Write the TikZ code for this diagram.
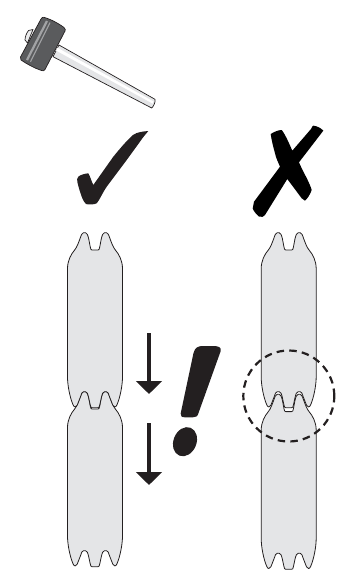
\documentclass[tikz,border=0pt]{standalone}
\usetikzlibrary{arrows.meta}
\definecolor{ink}{HTML}{231F20}
\definecolor{plankgrey}{HTML}{E4E5E7}
\definecolor{headgrey}{HTML}{5A5B5D}
\definecolor{stripegrey}{HTML}{A2A3A5}
\newcommand{\plankshape}[2]{%
  \draw[plank,shift={(#1,#2)}]
    (-27.5,144) -- (-27.5,36)
    .. controls (-27.5,28) and (-24,21.5) .. (-20.5,17.5)
    .. controls (-18,14.5) and (-16.5,10) .. (-15,6)
    .. controls (-13.8,2.5) and (-13,0) .. (-11.5,0)
    -- (-9.5,0)
    .. controls (-8,0) and (-7.2,2.5) .. (-6.3,6)
    -- (-4.8,14)
    .. controls (-4.4,16.5) and (-4,17.3) .. (-3,17.3)
    -- (3,17.3)
    .. controls (4,17.3) and (4.4,16.5) .. (4.8,14)
    -- (6.3,6)
    .. controls (7.2,2.5) and (8,0) .. (9.5,0)
    -- (11.5,0)
    .. controls (13,0) and (13.8,2.5) .. (15,6)
    .. controls (16.5,10) and (18,14.5) .. (20.5,17.5)
    .. controls (24,21.5) and (27.5,28) .. (27.5,36)
    -- (27.5,144)
    .. controls (27.5,153) and (25,165) .. (22,172)
    .. controls (21,174.8) and (18.8,175) .. (17.8,172.5)
    -- (14.5,164)
    .. controls (13.5,161) and (13,159) .. (11.5,159)
    -- (9.5,159)
    .. controls (8,159) and (7.2,161) .. (6.3,165)
    -- (4.8,172)
    .. controls (4.4,174.3) and (4,175) .. (3,175)
    -- (-3,175)
    .. controls (-4,175) and (-4.4,174.3) .. (-4.8,172)
    -- (-6.3,165)
    .. controls (-7.2,161) and (-8,159) .. (-9.5,159)
    -- (-11.5,159)
    .. controls (-13,159) and (-13.5,161) .. (-14.5,164)
    -- (-17.8,172.5)
    .. controls (-18.8,175) and (-21,174.8) .. (-22,172)
    .. controls (-25,165) and (-27.5,153) .. (-27.5,144)
    -- cycle;}
\tikzset{
  plank/.style={draw=ink,fill=plankgrey,line width=0.8pt,line join=round},
  solidmark/.style={fill=ink,draw=none},
  downarrow/.style={draw=ink,line width=3.7pt,-{Triangle[length=13pt,width=25.5pt,color=ink]}},
  hammeredge/.style={draw=ink,line width=0.7pt,line join=round},
}
\begin{document}
\begin{tikzpicture}[x=1pt,y=-1pt]
\useasboundingbox (0,0) rectangle (350,584);
% hammer
\draw[hammeredge,fill=plankgrey!70] (33,29.5) -- (28.5,30.5) .. controls (26.5,33) and (25,37) .. (25,40) -- (27.5,43) -- cycle;
\draw[hammeredge,fill=plankgrey] (59,45) -- (155,99.3) .. controls (155.5,102) and (154,106) .. (151.7,108) -- (53,56.7) -- cycle;
\fill[white] (57,47.5) -- (153.5,101.5) -- (152.5,103.5) -- (56,50.5) -- cycle;
\draw[hammeredge,fill=headgrey] (44,17.3) .. controls (50,19) and (58,23) .. (64,27.5)
  .. controls (65.5,29) and (65.5,30) .. (65,31)
  -- (45,69.5) .. controls (44,71) and (43,71) .. (41.5,70.5)
  .. controls (34,68) and (27,64) .. (21,60)
  .. controls (20,59) and (20,58) .. (20.5,57)
  -- (41,19) .. controls (42,17.5) and (43,17) .. (44,17.3) -- cycle;
\fill[stripegrey] (46,20.5) -- (48,21.5) -- (28,60.5) -- (26,59.5) -- cycle;
\fill[stripegrey] (49.5,22.3) -- (50.5,22.8) -- (31,62) -- (30,61.5) -- cycle;
% check mark
\fill[solidmark] (148.3,131) .. controls (143,131.5) and (137,132) .. (133,135)
  .. controls (127,140) and (118,151) .. (113.3,156.7)
  -- (93.3,185) .. controls (91,180) and (90,176) .. (88.3,173.3)
  .. controls (85,173.5) and (80,175) .. (78.3,176.7)
  .. controls (77,178) and (77,180) .. (77.3,181.7)
  .. controls (78.5,187) and (80,192) .. (81.7,196.7)
  .. controls (83,200) and (84.5,203) .. (86,204)
  .. controls (89,205) and (94,204.5) .. (96.7,203.3)
  .. controls (99,201) and (103,192) .. (106.7,186.7)
  -- (126.7,160) -- (140,141.7) .. controls (143,137) and (146,134) .. (148.3,131) -- cycle;
% cross mark
\fill[black] (270.7,134) .. controls (274,132) and (278,130) .. (281.7,130)
  .. controls (285,134) and (289,143) .. (292.3,150.7)
  -- (311,129) .. controls (312,127) and (312.5,125.7) .. (313.3,125.7)
  .. controls (317,126) and (321,128) .. (323.3,130.7)
  -- (299,162.3)
  .. controls (303,172) and (309,181) .. (311.7,190)
  .. controls (310,195) and (307,199) .. (305,200.7)
  -- (301.7,198.3) -- (287.3,179)
  -- (265,215) .. controls (264.5,216.5) and (261,218) .. (259,216.5)
  .. controls (256,214) and (253.5,211) .. (252.7,208.3)
  -- (254,201.7) -- (280,166.7)
  .. controls (278,162) and (276,158) .. (275,153.3)
  .. controls (273,146) and (271.5,140) .. (270.7,134) -- cycle;
% planks
\plankshape{95}{391.7}
\plankshape{95}{232.7}
\plankshape{288.7}{394.3}
\plankshape{288.7}{232.7}
% arrows
\coordinate (a1s) at (149,333.3);
\coordinate (a1e) at (149,394);
\coordinate (a2s) at (149,423.3);
\coordinate (a2e) at (149,485);
\draw[downarrow] (a1s) -- (a1e);
\draw[downarrow] (a2s) -- (a2e);
% exclamation
\fill[solidmark] (193.5,353) .. controls (195,347.5) and (198,346) .. (203,346)
  -- (213,346) .. controls (219,346) and (221.5,347.5) .. (220.7,351)
  -- (198.5,413) .. controls (197.5,416.5) and (196,417.3) .. (193,417.3)
  -- (185,417.3) .. controls (181.5,417.3) and (180.3,416) .. (180.7,413.3) -- cycle;
\fill[solidmark,rotate around={-22:(185,441.7)}] (185,441.7) ellipse [x radius=11.5pt,y radius=15pt];
% dashed circle
\draw[ink,line width=2.2pt,dash pattern=on 7.5pt off 5.2pt] (288.8,396) circle [radius=45.5pt];
\end{tikzpicture}
\end{document}
